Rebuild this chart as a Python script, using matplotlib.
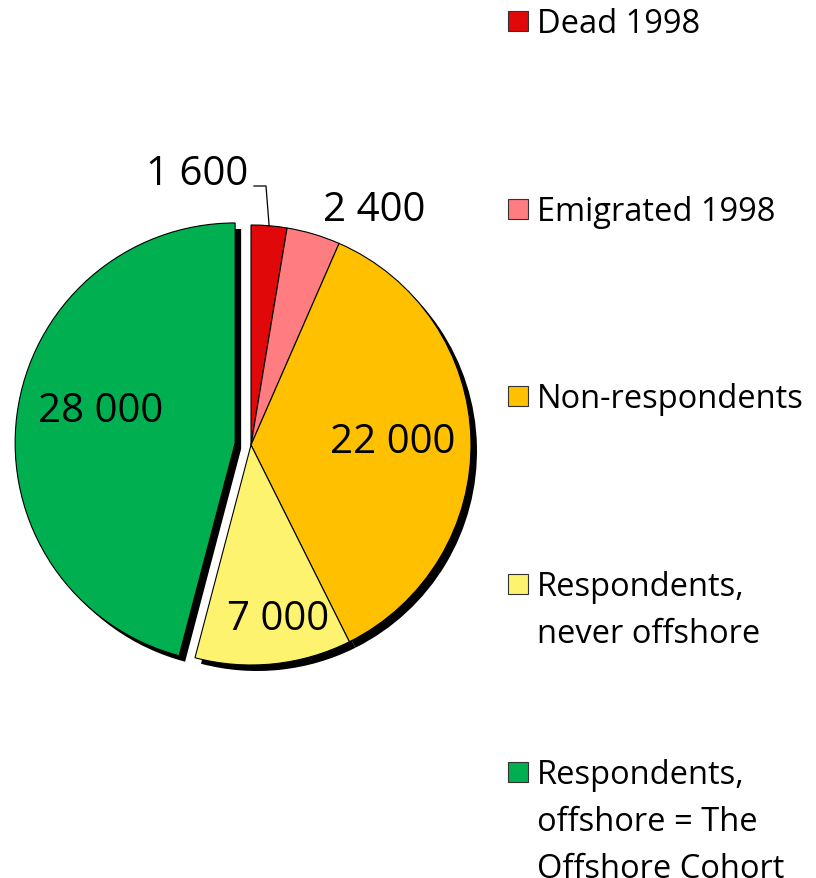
import matplotlib.pyplot as plt
import numpy as np
from matplotlib.patches import Rectangle

plt.rcParams['font.family'] = ['Open Sans', 'DejaVu Sans']

# data
categories = ['Dead 1998', 'Emigrated 1998', 'Non-respondents',
              'Respondents,\nnever offshore',
              'Respondents,\noffshore = The\nOffshore Cohort']
values = [1600, 2400, 22000, 7000, 28000]
value_labels = ['1 600', '2 400', '22 000', '7 000', '28 000']
colors = ['#E00808', '#FF7C80', '#FFC000', '#FDF36E', '#00AF50']

W, H = 816, 879
fig = plt.figure(figsize=(W / 100, H / 100), dpi=100)
ax = fig.add_axes([0, 0, 1, 1])

cx, cy, R = 251, H - 446, 220
explode = [0, 0, 0, 0, 16]

# black offset shadow
ax.pie(values, colors=['black'] * 5, startangle=90, counterclock=False,
       radius=R, center=(cx + 6, cy - 6), explode=explode,
       wedgeprops=dict(linewidth=0))
wedges, _ = ax.pie(values, colors=colors, startangle=90, counterclock=False,
                   radius=R, center=(cx, cy), explode=explode,
                   wedgeprops=dict(edgecolor='black', linewidth=0.8))

ax.set_xlim(0, W)
ax.set_ylim(0, H)
ax.set_aspect('equal')
ax.axis('off')

# value labels: (x centre, baseline y from top)
label_pos = [(197, 185), (374, 221), (393, 453), (278, 630), (101, 422)]
for txt, (x, y) in zip(value_labels, label_pos):
    ax.text(x, H - y, txt, fontsize=29, ha='center', va='baseline')

# leader line for the small slice
w0 = wedges[0]
th = np.deg2rad((w0.theta1 + w0.theta2) / 2)
px, py = w0.center[0] + w0.r * np.cos(th), w0.center[1] + w0.r * np.sin(th)
ax.plot([254, 266, px], [H - 187, H - 187, py], color='black', lw=0.9)

# legend
legend_y = [22, 210, 397, 585, 773]
for lab, col, y in zip(categories, colors, legend_y):
    ax.add_patch(Rectangle((508, H - y - 10), 20, 20, facecolor=col,
                           edgecolor='#333333', linewidth=0.8))
    for i, line in enumerate(lab.split('\n')):
        ax.text(537, H - y - 11 - i * 47, line, fontsize=23.5,
                ha='left', va='baseline')

fig.savefig('out.png', dpi=100)
